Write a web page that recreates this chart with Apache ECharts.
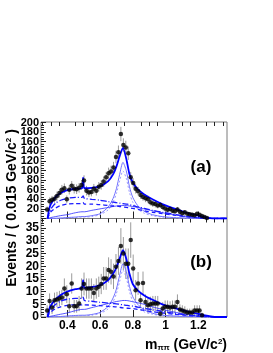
<!DOCTYPE html>
<html><head><meta charset="utf-8">
<script src="https://cdn.jsdelivr.net/npm/echarts@6/dist/echarts.min.js"></script>
<style>html,body{margin:0;padding:0;background:#fff}#c{width:273px;height:353px}</style>
</head><body><div id="c"></div>
<script>
const mass = [0.2775,0.2925,0.3075,0.3225,0.3375,0.3525,0.3675,0.3825,0.3975,0.4125,0.4275,0.4425,0.4575,0.4725,0.4875,0.5025,0.5175,0.5325,0.5475,0.5625,0.5775,0.5925,0.6075,0.6225,0.6375,0.6525,0.6675,0.6825,0.6975,0.7125,0.7275,0.7425,0.7575,0.7725,0.7875,0.8025,0.8175,0.8325,0.8475,0.8625,0.8775,0.8925,0.9075,0.9225,0.9375,0.9525,0.9675,0.9825,0.9975,1.0125,1.0275,1.0425,1.0575,1.0725,1.0875,1.1025,1.1175,1.1325,1.1475,1.1625,1.1775,1.1925,1.2075,1.2225,1.2375,1.2525];
const evtA = [19,36,39,41,47,53,60,63,40,60,68,62,61,64,70,79,58,54,55,62,58,66,70,77,86,94,98,106,128,138,176,153,148,136,86,74,62,57,49,45,42,40,34,31,30,27,28,24,21,18,20,16,15,19,14,11,13,10,9,8,7,10,8,5,3,1];
const errA = [6,8,8,8,9,9,10,10,8,10,10,10,10,10,10,11,10,9,9,10,10,10,10,11,11,12,12,12,13,14,15,14,14,14,11,10,10,9,8,8,8,8,7,7,7,6,6,6,6,5,5,5,5,5,5,4,4,4,4,4,3,4,3,3,2,1];
const evtB = [2.6,6.3,3.7,6.6,6.9,7.3,7.7,11.2,9,4.2,13.2,4.2,4.2,5.3,11.2,13,11.2,11.2,11.2,9.5,11.2,11.9,13,15.2,15.2,18.5,17.8,16,19.8,22.1,28,25,21,21,30.3,19.1,10.5,13.2,6.6,13.4,5.9,4.6,5,5.3,5.3,5.3,1.3,3.3,4,4,3.7,4,4,5.9,3,2.6,2.2,1.8,1.8,1.8,2.6,2.6,2.6,0.7,null,null];
const errB = [2,3,2.5,3,3,3,3,4,3.5,2.5,4,2.5,2.5,3,4,4.5,4,4,4,3.5,4,4,4,4.5,4.5,5,5,5,5,5.5,7,6.5,6,6,7,5.5,4,4.5,3,4.5,3,3,3,3,3,3,1.5,2.5,2.5,2.5,2.5,2.5,2.5,3,2,2,2,1.5,1.5,1.5,2,2,2,1,0,0];

const fitX = [0.28,0.29,0.30,0.33,0.36,0.40,0.45,0.49,0.497,0.505,0.55,0.60,0.65,0.68,0.70,0.72,0.74,0.76,0.78,0.80,0.83,0.87,0.92,0.98,1.05,1.12,1.20,1.26,1.30,1.375];
const totA = [0,20,30,45,53,59,62,63,85,63,64,67,78,92,108,130,147,125,92,75,61,50,40,30,21,13,6,1.5,0,0];
const dashDotA = [0,12,20,32,38,42,44,44,47,42,40,38,35,34,33,32,31,30,29,27,24,21,17,13,9,5,2,0.5,0,0];
const dashA = [0,8,14,22,27,30,31,31,33,30,30,29,27,26,26,25,24,23,22,21,19,16,13,10,7,4,1.5,0.3,0,0];
const thinA = [0,1,2,4,6,8,12,14,14,14,17,20,23,25,26,27,27,27,26,25,23,20,16,12,8,4,1.5,0.3,0,0];
const rhoA = [0,0,0,0.5,1,2,3,4,4,4,6,10,24,42,62,92,117,100,66,44,27,15,8,4,2,1,0.3,0,0,0];
const omA = [0,0,0,0,0.5,1,2,3,3,3,4,8,18,34,52,78,99,84,54,34,20,11,6,3,1.5,0.5,0,0,0,0];
const totB = [0,3,4.5,7,8.7,10,11,11.5,14.5,11.5,11.8,12.5,14.5,17,19.5,23,26.3,23,17,13,10.5,8.5,6.8,5,3.6,2.4,1.2,0.4,0,0];
const dashDotB = [0,2,3,5,6.3,7,7.3,7.3,7.8,6.5,6.2,5.8,5.5,5.3,5.2,5,4.8,4.6,4.4,4.3,3.9,3.4,2.9,2.2,1.5,0.9,0.4,0.1,0,0];
const dashB = [0,1.3,2,3.3,4,4.6,4.8,4.8,5.1,4.8,4.7,4.5,4.2,4.1,4,3.8,3.6,3.5,3.4,3.3,3,2.6,2.1,1.6,1.1,0.7,0.3,0.1,0,0];
const thinB = [0,0.2,0.3,0.7,1.1,1.6,2.5,3,3,3,3.7,4.5,5.3,5.8,6.1,6.3,6.5,6.5,6.3,6,5.6,5,4,3,2,1.1,0.4,0.1,0,0];
const rhoB = [0,0,0,0.1,0.2,0.4,0.6,0.7,0.7,0.7,1,1.8,4.2,7.5,11,16.5,21,18,12,8,5,2.8,1.5,0.7,0.4,0.2,0.1,0,0,0];
const omB = [0,0,0,0,0.1,0.2,0.4,0.5,0.5,0.5,0.7,1.4,3.2,6,9.2,14,18.5,15.5,10,6.2,3.7,2,1.1,0.5,0.3,0.1,0,0,0,0];

const xMajor = [0.4,0.6,0.8,1.0,1.2];
const xMinor = [0.25,0.3,0.35,0.45,0.5,0.55,0.65,0.7,0.75,0.85,0.9,0.95,1.05,1.1,1.15,1.25,1.3,1.35];

const FONT = 'Liberation Sans';
const chart = echarts.init(document.getElementById('c'));

function pts(xs, ys){ return xs.map((x,i)=>[x, ys[i]]); }
function errData(ys, es){ return mass.map((x,i)=> ys[i]==null ? null : [x, ys[i], es[i]]).filter(d=>d); }
function errSeries(ys, es, idx){
  return {type:'custom', xAxisIndex:idx*2, yAxisIndex:idx, data: errData(ys, es), z:2, silent:true,
    renderItem:(p, api)=>{
      const x=api.value(0), y=api.value(1), e=api.value(2);
      const a=api.coord([x, y+e]), b=api.coord([x, Math.max(0,y-e)]);
      return {type:'line', shape:{x1:a[0],y1:a[1],x2:b[0],y2:b[1]}, style:{stroke:'#9a9a9a', lineWidth:1}};
    }};
}
function ptSeries(ys, idx){
  return {type:'scatter', xAxisIndex:idx*2, yAxisIndex:idx, data: mass.map((x,i)=>[x, ys[i]]).filter(d=>d[1]!=null),
    symbol:'circle', symbolSize:4.5, itemStyle:{color:'#000'}, z:5, silent:true};
}
function lineS(ys, idx, color, width, type, z){
  return {type:'line', xAxisIndex:idx*2, yAxisIndex:idx, data: pts(fitX, ys), showSymbol:false, smooth:0.25,
    lineStyle:{color:color, width:width, type:type}, z:z, silent:true};
}
function xAxes(gi, labels){
  return [
    {type:'value', gridIndex:gi, min:0.24, max:1.375,
     axisLine:{show:false}, splitLine:{show:false},
     axisTick:{show:true, inside:true, length:7, customValues:xMajor, lineStyle:{color:'#222'}},
     axisLabel:{show:labels, customValues:xMajor, fontFamily:FONT, fontWeight:'bold', fontSize:12, color:'#000', margin:3,
       formatter:v=>String(Math.round(v*10)/10)}},
    {type:'value', gridIndex:gi, min:0.24, max:1.375,
     axisLine:{show:false}, splitLine:{show:false},
     axisTick:{show:true, inside:true, length:4, customValues:xMinor, lineStyle:{color:'#222'}},
     axisLabel:{show:false}}
  ];
}
function yAxis(gi, max, interval, fs){
  return {type:'value', gridIndex:gi, min:0, max:max, interval:interval,
    axisLine:{show:false}, splitLine:{show:false},
    axisTick:{show:true, inside:true, length:5, lineStyle:{color:'#222'}},
    minorTick:{show:true, splitNumber:interval===20?4:5, length:3, lineStyle:{color:'#222'}},
    axisLabel:{fontFamily:FONT, fontWeight:'bold', fontSize:fs, color:'#000', margin:2,
      formatter:v=> (Math.abs(v/interval - Math.round(v/interval))<1e-6) ? String(v) : ''}};
}

chart.setOption({
  animation:false,
  grid:[
    {left:41, top:122, width:186, height:96.5, show:true, borderColor:'#7a7a7a', borderWidth:1, backgroundColor:'transparent'},
    {left:41, top:218.5, width:186, height:98.5, show:true, borderColor:'#7a7a7a', borderWidth:1, backgroundColor:'transparent'}
  ],
  xAxis:[...xAxes(0,false), ...xAxes(1,true)],
  yAxis:[yAxis(0, 201, 20, 11), yAxis(1, 38.8, 5, 12)],
  series:[
    errSeries(evtA, errA, 0),
    lineS(omA, 0, '#9a9aff', 1, [2,2], 3),
    lineS(rhoA, 0, '#7070ff', 1, 'solid', 3),
    lineS(thinA, 0, '#2a2aff', 0.8, 'solid', 3),
    lineS(dashA, 0, '#1a1aff', 1.3, [4,3], 3),
    lineS(dashDotA, 0, '#1a1aff', 1.3, [6,2,1,2], 3),
    lineS(totA, 0, '#0000ff', 1.8, 'solid', 4),
    ptSeries(evtA, 0),
    errSeries(evtB, errB, 1),
    lineS(omB, 1, '#9a9aff', 1, [2,2], 3),
    lineS(rhoB, 1, '#7070ff', 1, 'solid', 3),
    lineS(thinB, 1, '#2a2aff', 0.8, 'solid', 3),
    lineS(dashB, 1, '#1a1aff', 1.3, [4,3], 3),
    lineS(dashDotB, 1, '#1a1aff', 1.3, [6,2,1,2], 3),
    lineS(totB, 1, '#0000ff', 1.8, 'solid', 4),
    ptSeries(evtB, 1)
  ],
  graphic:[
    {type:'text', x:201, y:167, style:{text:'(a)', font:'bold 17px "Liberation Sans"', fill:'#000', align:'center', verticalAlign:'middle'}},
    {type:'text', x:201, y:262, style:{text:'(b)', font:'bold 17px "Liberation Sans"', fill:'#000', align:'center', verticalAlign:'middle'}},
    {type:'text', x:227, y:345, style:{
      text:'{m|m}{s|ππ}{n| (GeV/c}{p|2}{n|)}', align:'right', verticalAlign:'middle',
      rich:{m:{font:'bold 14px "Liberation Sans"', fill:'#000'},
            s:{font:'bold 8px "Liberation Sans"', fill:'#000', verticalAlign:'bottom', padding:[6,0,0,0]},
            n:{font:'bold 14px "Liberation Sans"', fill:'#000'},
            p:{font:'bold 8px "Liberation Sans"', fill:'#000', verticalAlign:'top', padding:[0,0,6,0]}}}},
    {type:'text', x:12, y:208, rotation:Math.PI/2, style:{
      text:'{n|Events / ( 0.015 GeV/c}{p|2}{n| )}', align:'center', verticalAlign:'middle',
      rich:{n:{font:'bold 14px "Liberation Sans"', fill:'#000'},
            p:{font:'bold 8px "Liberation Sans"', fill:'#000', verticalAlign:'top', padding:[0,0,6,0]}}}}
  ]
});
</script></body></html>
